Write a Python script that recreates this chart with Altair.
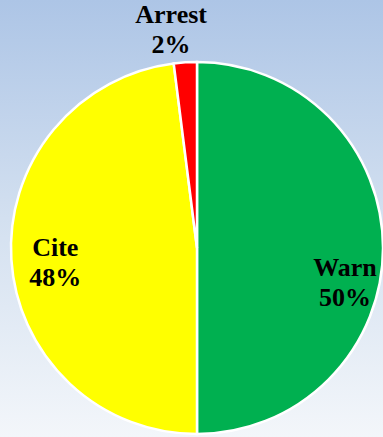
import altair as alt
import pandas as pd

# Outcome shares (percent), drawn clockwise from 12 o'clock
outcomes = ["Warn", "Cite", "Arrest"]
shares = [50, 48, 2]
colors = ["#00b050", "#ffff00", "#ff0000"]

df = pd.DataFrame({
    "outcome": outcomes,
    "share": shares,
    "order": list(range(len(outcomes))),
})
df["label_pct"] = df["share"].astype(str) + "%"

W, H = 383, 437
CX, CY, R = 197, 248, 186

# Soft vertical background gradient
bg = alt.Chart(pd.DataFrame({"a": [0]})).mark_rect(
    color=alt.Gradient(
        gradient="linear",
        stops=[
            alt.GradientStop(color="#adc5e6", offset=0),
            alt.GradientStop(color="#d3e0f0", offset=0.5),
            alt.GradientStop(color="#f3f6fa", offset=1),
        ],
        x1=0, x2=0, y1=0, y2=1,
    )
).encode(x=alt.value(0), x2=alt.value(W), y=alt.value(0), y2=alt.value(H))

pie = alt.Chart(df).mark_arc(outerRadius=R, stroke="white", strokeWidth=2.5).encode(
    theta=alt.Theta("share:Q", stack=True),
    order=alt.Order("order:Q"),
    color=alt.Color("outcome:N",
                    scale=alt.Scale(domain=outcomes, range=colors),
                    legend=None),
    x=alt.value(CX),
    y=alt.value(CY),
)

font = dict(font="Liberation Serif", fontSize=26, fontWeight="bold",
            color="black", align="center", lineHeight=30)

# Two-line label (name, percent) placed at the middle angle of its slice
def label_layer(name, radius, dx, dy):
    return alt.Chart(df).transform_window(
        cum="sum(share)", sort=[alt.SortField("order")]
    ).transform_calculate(
        mid="(datum.cum - datum.share / 2)",
        lines="[datum.outcome, datum.label_pct]",
    ).transform_filter(alt.datum.outcome == name).mark_text(
        radius=radius, dx=dx, dy=dy, **font
    ).encode(
        theta=alt.Theta("mid:Q", scale=alt.Scale(domain=[0, 100])),
        text=alt.Text("lines:N"),
        x=alt.value(CX),
        y=alt.value(CY),
    )

labels = (
    label_layer("Warn", 148, 0, 20)
    + label_layer("Cite", 142, 0, -9)
    + label_layer("Arrest", 221, -12, -12)
)

chart = alt.layer(bg, pie, labels).properties(
    width=W, height=H,
    autosize=alt.AutoSizeParams(type="none"),
    padding=0,
).configure_view(stroke=None).configure(background="#f3f6fa")

chart.save("out.html", embed_options={"renderer": "svg", "actions": False})
